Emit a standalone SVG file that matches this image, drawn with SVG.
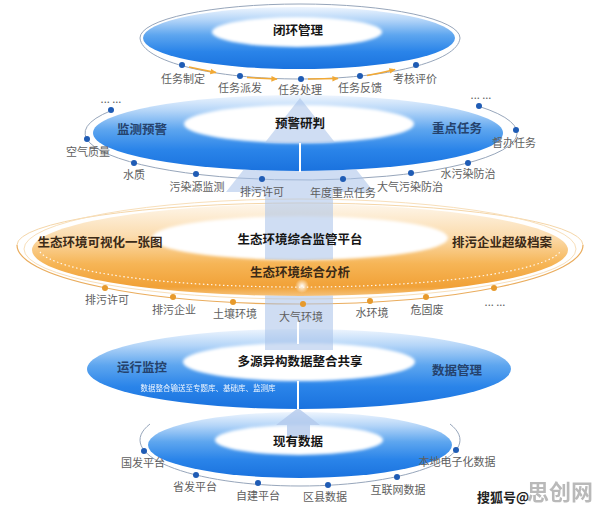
<svg xmlns="http://www.w3.org/2000/svg" width="596" height="510" viewBox="0 0 596 510">
<defs>
<style>
text{font-family:"Noto Sans CJK SC","Noto Sans",sans-serif}
.t{font-size:12.5px;font-weight:700;fill:#161616;text-anchor:middle}
.sb{font-size:12.5px;font-weight:600;fill:#25426c;text-anchor:middle}
.so{font-size:12.5px;font-weight:700;fill:#3b2a17;text-anchor:middle}
.l{font-size:11px;fill:#5e5e5e;text-anchor:middle}
.dot{fill:#1f5cb5}
.odot{fill:#e79a2c}
.arc{fill:none;stroke:#97a6bb;stroke-width:1}
.oarc{fill:none;stroke:#eaad5e;stroke-width:1.2}
.arw{fill:#a9c3ea;opacity:.55}
.gap{stroke:#fff;stroke-width:2}
.oseg{stroke:#f2a935;stroke-width:1.5;fill:none}
</style>
<linearGradient id="gb" x1="0" y1="0" x2="0" y2="1">
<stop offset="0" stop-color="#eef5fe"/>
<stop offset="0.2" stop-color="#b6d6f8"/>
<stop offset="0.45" stop-color="#5ea6ef"/>
<stop offset="0.72" stop-color="#2a84e9"/>
<stop offset="1" stop-color="#1a72de"/>
</linearGradient>
<linearGradient id="go" x1="0" y1="0" x2="0" y2="1">
<stop offset="0" stop-color="#fef6ea"/>
<stop offset="0.35" stop-color="#fbdcae"/>
<stop offset="0.65" stop-color="#f6b556"/>
<stop offset="0.9" stop-color="#f1a137"/>
<stop offset="1" stop-color="#f5c27a"/>
</linearGradient>
<radialGradient id="glow"><stop offset="0" stop-color="#fff"/><stop offset="1" stop-color="#fff" stop-opacity="0"/></radialGradient>
<filter id="soft" x="-20%" y="-60%" width="140%" height="220%"><feGaussianBlur stdDeviation="1.5"/></filter>
<mask id="m1" maskUnits="userSpaceOnUse" x="0" y="0" width="596" height="510"><rect width="596" height="510" fill="#fff"/><ellipse cx="297" cy="32" rx="85" ry="15" fill="#000" filter="url(#soft)"/></mask>
<mask id="m2" maskUnits="userSpaceOnUse" x="0" y="0" width="596" height="510"><rect width="596" height="510" fill="#fff"/><ellipse cx="299" cy="124" rx="115" ry="19" fill="#000" filter="url(#soft)"/></mask>
<mask id="m3" maskUnits="userSpaceOnUse" x="0" y="0" width="596" height="510"><rect width="596" height="510" fill="#fff"/><ellipse cx="300" cy="238" rx="148" ry="22" fill="#000" filter="url(#soft)"/></mask>
<mask id="m4" maskUnits="userSpaceOnUse" x="0" y="0" width="596" height="510"><rect width="596" height="510" fill="#fff"/><ellipse cx="299" cy="362" rx="116" ry="19" fill="#000" filter="url(#soft)"/></mask>
<mask id="m5" maskUnits="userSpaceOnUse" x="0" y="0" width="596" height="510"><rect width="596" height="510" fill="#fff"/><ellipse cx="299" cy="440" rx="84" ry="15" fill="#000" filter="url(#soft)"/></mask>
<mask id="ma" maskUnits="userSpaceOnUse" x="0" y="0" width="596" height="510">
<rect width="596" height="510" fill="#fff"/>
<path d="M93,133 A205,38 0 0 0 503,133 Z" fill="#000"/>
<path d="M32,250 A268,46 0 0 0 568,250 Z" fill="#000"/>
<path d="M87,369 A212,40 0 0 0 511,369 Z" fill="#000"/>
<ellipse cx="299" cy="124" rx="115" ry="19" fill="#fff"/>
<ellipse cx="300" cy="238" rx="148" ry="22" fill="#fff"/>
<ellipse cx="299" cy="362" rx="116" ry="19" fill="#fff"/>
</mask>
<marker id="oa" viewBox="0 0 10 10" refX="8" refY="5" markerWidth="7" markerHeight="7" markerUnits="userSpaceOnUse" orient="auto"><path d="M0,1 L9,5 L0,9 Z" fill="#f2a935"/></marker>
</defs>
<rect width="596" height="510" fill="#fff"/>

<!-- ring shapes -->
<g id="ring-closed-loop">
<path class="arc" d="M140,38 A160,34 0 0 1 460,38" stroke="#cfd8e4"/>
<path class="arc" d="M140,38 C142,62 215,79 300,79 C385,79 458,62 460,38"/>
<ellipse cx="299" cy="38" rx="156" ry="31" fill="url(#gb)" mask="url(#m1)"/>
</g>
<g id="ring-warning">
<path class="arc" d="M111,110.7 A216,47 0 1 0 479,106.4"/>
<ellipse cx="298" cy="133" rx="205" ry="38" fill="url(#gb)" mask="url(#m2)"/>
</g>
<g id="ring-platform">
<path d="M17,245 A283,42 0 0 1 583,245" fill="none" stroke="#f5d6a8" stroke-width="1"/>
<ellipse cx="300" cy="249" rx="276" ry="50" fill="none" stroke="#f8dfba" stroke-width="1"/>
<path class="oarc" d="M583,245 A283,59 0 0 1 17,245"/>
<ellipse cx="300" cy="250" rx="268" ry="46" fill="url(#go)" mask="url(#m3)"/>
<path d="M40,252 A262,40 0 0 0 560,252" fill="none" stroke="#fff" stroke-width="1.2" stroke-dasharray="1.5 2.5" opacity=".9"/>
<circle cx="302" cy="286" r="7" fill="url(#glow)"/>
</g>
<g id="ring-integration">
<ellipse cx="299" cy="369" rx="212" ry="40" fill="url(#gb)" mask="url(#m4)"/>
</g>
<g id="ring-existing">
<path class="arc" d="M150,424 A160,46 0 1 0 450,424"/>
<ellipse cx="300" cy="445" rx="152" ry="33" fill="url(#gb)" mask="url(#m5)"/>
</g>

<!-- connectors -->
<g id="connectors">
<path class="arw" mask="url(#ma)" d="M300,98 L226,192 L265,192 L265,350 L333,350 L333,192 L374,192 Z"/>
<path d="M298,408 L276,425 L287,425 L287,438 L310,438 L310,425 L320,425 Z" fill="#b3c9ec" opacity=".8"/>
<line class="gap" x1="300" y1="143" x2="300" y2="172"/>
<line class="gap" x1="298" y1="322" x2="298" y2="344"/>
<line class="gap" x1="298" y1="381" x2="298" y2="409"/>
<path class="oseg" d="M189,67 Q203,70 216,72.5" marker-end="url(#oa)"/>
<path class="oseg" d="M247,77.5 Q262,78.6 277,79" marker-end="url(#oa)"/>
<path class="oseg" d="M308,79 Q323,79 338,78.6" marker-end="url(#oa)"/>
<path class="oseg" d="M367,75.5 Q381,73 395,69.5" marker-end="url(#oa)"/>
</g>

<!-- labels -->
<g id="ring-closed-loop-labels">
<text class="t" x="298" y="35">闭环管理</text>
<circle class="dot" cx="182" cy="65" r="3"/>
<circle class="dot" cx="240" cy="76" r="3"/>
<circle class="dot" cx="301" cy="79" r="3"/>
<circle class="dot" cx="360" cy="76" r="3"/>
<circle class="dot" cx="416" cy="65" r="3"/>
<text class="l" x="183" y="83">任务制定</text>
<text class="l" x="240" y="92">任务派发</text>
<text class="l" x="300" y="94">任务处理</text>
<text class="l" x="360" y="92">任务反馈</text>
<text class="l" x="415" y="83">考核评价</text>
</g>
<g id="ring-warning-labels">
<text class="t" x="300" y="128">预警研判</text>
<text class="sb" x="142" y="134">监测预警</text>
<text class="sb" x="457" y="133">重点任务</text>
<circle class="dot" cx="111" cy="110" r="3"/>
<circle class="dot" cx="87" cy="139" r="3"/>
<circle class="dot" cx="134" cy="163" r="3"/>
<circle class="dot" cx="196" cy="174" r="3"/>
<circle class="dot" cx="262" cy="179" r="3"/>
<circle class="dot" cx="343" cy="179" r="3"/>
<circle class="dot" cx="411" cy="173" r="3"/>
<circle class="dot" cx="468" cy="163" r="3"/>
<circle class="dot" cx="516" cy="130" r="3"/>
<circle class="dot" cx="479" cy="106" r="3"/>
<text class="l" x="111" y="103">... ...</text>
<text class="l" x="88" y="156">空气质量</text>
<text class="l" x="134" y="179">水质</text>
<text class="l" x="197" y="191">污染源监测</text>
<text class="l" x="262" y="196">排污许可</text>
<text class="l" x="343" y="197">年度重点任务</text>
<text class="l" x="410" y="191">大气污染防治</text>
<text class="l" x="468" y="178">水污染防治</text>
<text class="l" x="514" y="147">督办任务</text>
<text class="l" x="481" y="99">... ...</text>
</g>
<g id="ring-platform-labels">
<text class="t" x="300" y="244">生态环境综合监管平台</text>
<text class="so" x="100" y="247">生态环境可视化一张图</text>
<text class="so" x="502" y="247">排污企业超级档案</text>
<text class="so" x="300" y="277">生态环境综合分析</text>
<circle class="odot" cx="105" cy="288" r="3"/>
<circle class="odot" cx="173" cy="297" r="3"/>
<circle class="odot" cx="233" cy="302" r="3"/>
<circle class="odot" cx="303" cy="304" r="3"/>
<circle class="odot" cx="370" cy="301" r="3"/>
<circle class="odot" cx="426" cy="297" r="3"/>
<circle class="odot" cx="494" cy="288" r="3"/>
<text class="l" x="107" y="304">排污许可</text>
<text class="l" x="174" y="314">排污企业</text>
<text class="l" x="235" y="318">土壤环境</text>
<text class="l" x="301" y="321">大气环境</text>
<text class="l" x="372" y="317">水环境</text>
<text class="l" x="427" y="314">危固废</text>
<text class="l" x="495" y="306">... ...</text>
</g>
<g id="ring-integration-labels">
<text class="t" x="300" y="366">多源异构数据整合共享</text>
<text class="sb" x="142" y="372">运行监控</text>
<text class="sb" x="457" y="375">数据管理</text>
<text x="208" y="391" font-size="7.5" fill="#fff" opacity=".92" text-anchor="middle">数据整合输送至专题库、基础库、监测库</text>
</g>
<g id="ring-existing-labels">
<text class="t" x="298" y="446">现有数据</text>
<circle class="dot" cx="144" cy="451" r="3"/>
<circle class="dot" cx="196" cy="475" r="3"/>
<circle class="dot" cx="258" cy="483" r="3"/>
<circle class="dot" cx="328" cy="485" r="3"/>
<circle class="dot" cx="397" cy="477" r="3"/>
<circle class="dot" cx="456" cy="450" r="3"/>
<text class="l" x="143" y="467">国发平台</text>
<text class="l" x="195" y="491">省发平台</text>
<text class="l" x="258" y="500">自建平台</text>
<text class="l" x="325" y="501">区县数据</text>
<text class="l" x="398" y="494">互联网数据</text>
<text class="l" x="457" y="466">本地电子化数据</text>
</g>
<g id="watermark">
<text x="477" y="502" font-size="13" font-weight="700" fill="#222">搜狐号@</text>
<text x="560" y="500" font-size="22" font-weight="700" fill="#8c8c8c" opacity=".6" text-anchor="middle">思创网</text>
</g>
</svg>
